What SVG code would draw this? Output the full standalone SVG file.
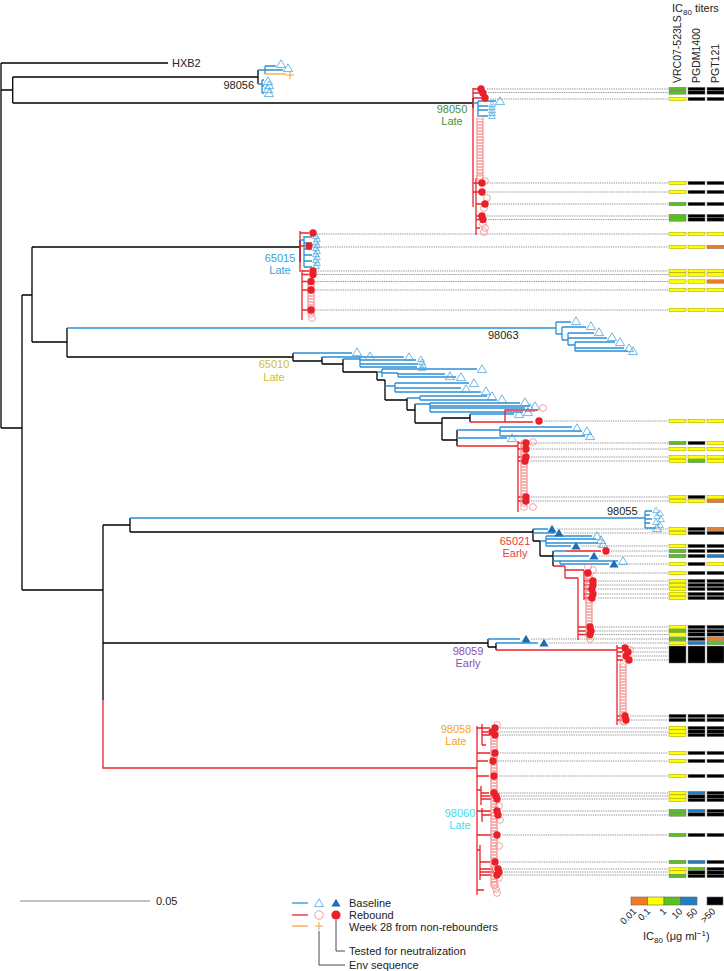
<svg xmlns="http://www.w3.org/2000/svg" width="724" height="971" viewBox="0 0 724 971">
<style>
text{font-family:"Liberation Sans",Arial,sans-serif;font-size:11px;fill:#222}
.hd{font-size:10.5px}
.k{fill:none;stroke:#000;stroke-width:1.3}
.b{fill:none;stroke:#2b8fd5;stroke-width:1.3}
.r{fill:none;stroke:#ea2229;stroke-width:1.3}
.or{fill:none;stroke:#f5a23c;stroke-width:1.3}
.dt{fill:none;stroke:#555;stroke-width:0.6;stroke-dasharray:1.4 0.9}
.Y{fill:#ffff00;stroke:#a39e00;stroke-width:.5}
.G{fill:#58c21c;stroke:#777;stroke-width:.5}
.K{fill:#000;stroke:#777;stroke-width:.5}
.O{fill:#f47a20;stroke:#777;stroke-width:.5}
.B{fill:#1f7dc3;stroke:#777;stroke-width:.5}
.lg{fill:none;stroke:#333;stroke-width:.9}
</style>
<defs>
<polygon id="ta" points="0,-4.2 4.6,3.6 -4.6,3.6" fill="none" stroke="#45a6df" stroke-width="0.8"/>
<polygon id="ts" points="0,-3 3.4,2.6 -3.4,2.6" fill="none" stroke="#45a6df" stroke-width="0.7"/>
<polygon id="tf" points="0,-4.2 4.6,3.6 -4.6,3.6" fill="#1b6fb6"/>
<circle id="co" r="3.4" fill="none" stroke="#f28b8b" stroke-width="0.8"/>
<circle id="cf" r="3.7" fill="#e8202a"/>
<path id="pl" d="M-4,0H4M0,-4V4" stroke="#f5a23c" stroke-width="1" fill="none"/>
<g id="cs"><use href="#co"/><use href="#co" y="3"/><use href="#co" y="6"/><use href="#co" y="9"/><use href="#co" y="12"/><use href="#co" y="15"/><use href="#co" y="18"/><use href="#co" y="21"/><use href="#co" y="24"/><use href="#co" y="27"/></g>
<g id="gkk"><rect class="G" x="669" y="-1.7" width="17" height="3.4"/><rect class="K" x="688" y="-1.7" width="17" height="3.4"/><rect class="K" x="707" y="-1.7" width="17" height="3.4"/></g>
<g id="ykk"><rect class="Y" x="669" y="-1.7" width="17" height="3.4"/><rect class="K" x="688" y="-1.7" width="17" height="3.4"/><rect class="K" x="707" y="-1.7" width="17" height="3.4"/></g>
<g id="yyy"><rect class="Y" x="669" y="-1.7" width="17" height="3.4"/><rect class="Y" x="688" y="-1.7" width="17" height="3.4"/><rect class="Y" x="707" y="-1.7" width="17" height="3.4"/></g>
<g id="yyo"><rect class="Y" x="669" y="-1.7" width="17" height="3.4"/><rect class="Y" x="688" y="-1.7" width="17" height="3.4"/><rect class="O" x="707" y="-1.7" width="17" height="3.4"/></g>
<g id="gky"><rect class="G" x="669" y="-1.7" width="17" height="3.4"/><rect class="K" x="688" y="-1.7" width="17" height="3.4"/><rect class="Y" x="707" y="-1.7" width="17" height="3.4"/></g>
<g id="ygy"><rect class="Y" x="669" y="-1.7" width="17" height="3.4"/><rect class="G" x="688" y="-1.7" width="17" height="3.4"/><rect class="Y" x="707" y="-1.7" width="17" height="3.4"/></g>
<g id="yky"><rect class="Y" x="669" y="-1.7" width="17" height="3.4"/><rect class="K" x="688" y="-1.7" width="17" height="3.4"/><rect class="Y" x="707" y="-1.7" width="17" height="3.4"/></g>
<g id="yko"><rect class="Y" x="669" y="-1.7" width="17" height="3.4"/><rect class="K" x="688" y="-1.7" width="17" height="3.4"/><rect class="O" x="707" y="-1.7" width="17" height="3.4"/></g>
<g id="gkb"><rect class="G" x="669" y="-1.7" width="17" height="3.4"/><rect class="K" x="688" y="-1.7" width="17" height="3.4"/><rect class="B" x="707" y="-1.7" width="17" height="3.4"/></g>
<g id="kkk"><rect class="K" x="669" y="-1.7" width="17" height="3.4"/><rect class="K" x="688" y="-1.7" width="17" height="3.4"/><rect class="K" x="707" y="-1.7" width="17" height="3.4"/></g>
<g id="gko"><rect class="G" x="669" y="-1.7" width="17" height="3.4"/><rect class="K" x="688" y="-1.7" width="17" height="3.4"/><rect class="O" x="707" y="-1.7" width="17" height="3.4"/></g>
<g id="ybg"><rect class="Y" x="669" y="-1.7" width="17" height="3.4"/><rect class="B" x="688" y="-1.7" width="17" height="3.4"/><rect class="G" x="707" y="-1.7" width="17" height="3.4"/></g>
<g id="ybk"><rect class="Y" x="669" y="-1.7" width="17" height="3.4"/><rect class="B" x="688" y="-1.7" width="17" height="3.4"/><rect class="K" x="707" y="-1.7" width="17" height="3.4"/></g>
<g id="gbk"><rect class="G" x="669" y="-1.7" width="17" height="3.4"/><rect class="B" x="688" y="-1.7" width="17" height="3.4"/><rect class="K" x="707" y="-1.7" width="17" height="3.4"/></g>
<g id="ygk"><rect class="Y" x="669" y="-1.7" width="17" height="3.4"/><rect class="G" x="688" y="-1.7" width="17" height="3.4"/><rect class="K" x="707" y="-1.7" width="17" height="3.4"/></g>
</defs>
<rect width="724" height="971" fill="#fff"/>

<g id="header">
<text x="672" y="12">IC<tspan font-size="8" dy="3">80</tspan><tspan dy="-3"> titers</tspan></text>
<text class="hd" transform="translate(681,83) rotate(-90)">VRC07-523LS</text>
<text class="hd" transform="translate(700,83) rotate(-90)">PGDM1400</text>
<text class="hd" transform="translate(719,83) rotate(-90)">PGT121</text>
</g>

<g id="connectors">
<path class="k" d="M1,63V428M1,63H168M1,90H12.7M12.7,77V103M12.7,77H258M12.7,103H473M1,428H22M22,295V590M22,295H32M32,247V342M32,247H300M32,342H67M67,328V357M67,357H293M22,590H103M103,525V700M103,525H130M130,518V532M130,532H533M103,643H488"/>
<path class="r" d="M103,700V768H477"/>
<path class="b" d="M67,328H556M130,518H645"/>
<g id="dotted" class="dt">
<path d="M487,89H668M488,92.5H668M490,99H668M487,183H668M487,192H668M490,204H668M487,216H668M488,219.5H668"/>
<path d="M317,234H668M314,247H668M318,271H668M317,274.5H668M315,281.5H668M315,290H668M315,310H668"/>
<path d="M544,421H668M531,443H668M531,449H668M531,457H668M531,461H668M531,497H668M531,501H668"/>
<path d="M557,529H668M564,533H668M581,546H668M611,551H668M599,556H668M619,564H668M593,573H668M598,581H668M598,585H668M598,589H668M598,594H668M598,598H668M595,627H668M595,631H668M595,634.5H668"/>
<path d="M531,639H668M549,643H668M630,648H668M633,652H668M631,656H668M634,660H668M630,716H668M631,720H668"/>
<path d="M500,728H668M497,732H668M500,735H668M500,753H668M498,761H668M499,776H668M499,793H668M501,796H668M502,799H668M502,811H668M503,815H668M502,835H668M500,862H668M503,869H668M504,872H668M502,875H668"/>
</g>
</g>

<g id="HXB2"><text x="172" y="67">HXB2</text></g>

<g id="clade-98056">
<path class="k" d="M258,70V84"/>
<path class="b" d="M258,70H265M265,66V74M265,66H276M265,70H283M258,84H262M262,80V93M262,80H264M262,86H264M262,93H264"/>
<path class="or" d="M265,74H286"/>
<use href="#ta" x="281" y="64"/><use href="#ta" x="288" y="68"/><use href="#ta" x="268" y="81"/><use href="#ta" x="269" y="85"/><use href="#ta" x="268" y="89"/><use href="#ta" x="269" y="93"/>
<use href="#pl" x="290" y="75"/>
<text x="254" y="89" text-anchor="end">98056</text>
</g>

<g id="clade-98050">
<path class="k" d="M473,98V108" stroke-width="2"/>
<path class="r" d="M473,88V207M473,89H479M473,93H480M473,98H482M476,178V235M473,183H479M473,192H479M476,204H482M476,216H479M476,219.5H480M476,228H480"/>
<path class="b" d="M473,103H478M478,101V116M478,101H496M478,106H488M478,110H488M478,116H488"/>
<use href="#ta" x="500" y="101"/><use href="#ts" x="492" y="104"/><use href="#ts" x="492" y="107"/><use href="#ts" x="492" y="110"/><use href="#ts" x="492" y="113"/><use href="#ts" x="492" y="116"/>
<use href="#cs" x="480" y="119"/><use href="#cs" x="480" y="149"/><use href="#co" x="480" y="178"/><use href="#co" x="485" y="181"/><use href="#co" x="487" y="198"/><use href="#co" x="484" y="208"/><use href="#co" x="483" y="224"/><use href="#co" x="485" y="228"/><use href="#co" x="484" y="232"/>
<use href="#cf" x="481" y="89"/><use href="#cf" x="483" y="93"/><use href="#cf" x="485" y="98"/><use href="#cf" x="482" y="183"/><use href="#cf" x="482" y="192"/><use href="#cf" x="485" y="204"/><use href="#cf" x="482" y="216"/><use href="#cf" x="483" y="219.5"/>
<text x="452" y="113" text-anchor="middle" style="fill:#4a8f3a">98050</text>
<text x="452" y="125" text-anchor="middle" style="fill:#4a8f3a">Late</text>
</g>

<g id="clade-65015">
<path class="k" d="M300,240V262" stroke-width="1.6"/>
<path class="r" d="M300,231V272M302,270V320M300,233H309M300,246H305M302,271H309M302,274.5H309M302,281.5H307M302,290H307M302,310H307"/>
<path class="b" d="M300,240H304M304,236V267M304,237H312M304,243H312M304,249H312M304,255H312M304,261H312M304,267H312"/>
<use href="#ts" x="316" y="236"/><use href="#ts" x="317" y="239"/><use href="#ts" x="316" y="242"/><use href="#ts" x="317" y="245"/><use href="#ts" x="316" y="248"/><use href="#ts" x="317" y="251"/><use href="#ts" x="316" y="254"/><use href="#ts" x="317" y="257"/><use href="#ts" x="316" y="260"/><use href="#ts" x="317" y="263"/><use href="#ts" x="316" y="266"/>
<use href="#cs" x="311" y="284"/><use href="#co" x="311" y="314"/><use href="#co" x="312" y="318"/>
<use href="#cf" x="313" y="233"/><use href="#cf" x="309" y="246"/><use href="#cf" x="313" y="271"/><use href="#cf" x="313" y="274.5"/><use href="#cf" x="311" y="281.5"/><use href="#cf" x="311" y="290"/><use href="#cf" x="311" y="310"/>
<text x="280" y="262" text-anchor="middle" style="fill:#3a9fda">65015</text>
<text x="280" y="274" text-anchor="middle" style="fill:#3a9fda">Late</text>
</g>

<g id="clade-98063">
<path class="b" d="M556,322V334M556,322H571M556,334H562M562,327V340M562,327H586M562,340H568M568,333V345M568,333H594M568,338H607M568,345H575M575,342V351M575,342H615M575,348H624M575,351H628"/>
<use href="#ta" x="576" y="321"/><use href="#ta" x="591" y="326"/><use href="#ta" x="599" y="332"/><use href="#ta" x="612" y="337"/><use href="#ta" x="620" y="342"/><use href="#ta" x="629" y="348"/><use href="#ta" x="633" y="351"/>
<text x="488" y="339">98063</text>
</g>

<g id="clade-65010">
<path class="k" d="M293,353V361M293,361H322M322,357V364M322,364H343M343,359V372M343,372H377M377,372V380M377,380H385M385,380V400M385,400H407M407,398V410M407,410H415M415,404V423M415,423H442M442,418V440M442,418H470M470,414V422M442,440H457M457,430V446"/>
<path class="b" d="M293,353H352M322,357H365M343,359H360M360,357V367M360,357H404M360,360H416M360,364H418M360,367H417M377,372H382M382,369V377M382,369H477M382,373H398M398,373V377M398,374H445M398,377H456M385,386H395M395,383V392M395,383H469M395,388H461M395,392H481M407,398H420M420,396V400M420,396H487M420,400H497M415,404H430M430,403V412M430,403H520M430,406H530M430,408H525M430,412H523M470,414H514M457,430H500M500,427V436M500,427H572M500,431H582M500,436H585M457,438H507"/>
<path class="r" d="M470,422H533M505,422V410H538M457,446H518M518,441V512M518,443H523M518,449H523M518,457H523M518,461H523M518,497H523M518,501H523"/>
<use href="#ta" x="357" y="352"/><use href="#ta" x="370" y="356"/><use href="#ta" x="409" y="357"/><use href="#ts" x="421" y="359"/><use href="#ts" x="422" y="362"/><use href="#ts" x="423" y="365"/><use href="#ts" x="422" y="368"/>
<use href="#ta" x="482" y="369"/><use href="#ta" x="450" y="376"/><use href="#ta" x="461" y="377"/><use href="#ta" x="474" y="383"/><use href="#ta" x="466" y="389"/><use href="#ta" x="486" y="391"/><use href="#ta" x="492" y="396"/><use href="#ta" x="502" y="399"/>
<use href="#ta" x="525" y="402"/><use href="#ta" x="535" y="406"/><use href="#ta" x="530" y="408"/><use href="#ta" x="528" y="412"/><use href="#ta" x="519" y="414"/><use href="#ta" x="577" y="428"/><use href="#ta" x="587" y="431"/><use href="#ta" x="590" y="436"/><use href="#ta" x="512" y="438"/>
<use href="#co" x="543" y="408"/><use href="#co" x="533" y="442"/><use href="#cs" x="524" y="443"/><use href="#cs" x="524" y="473"/><use href="#co" x="524" y="503"/><use href="#co" x="524" y="507"/><use href="#co" x="533" y="507"/>
<use href="#cf" x="539" y="421"/><use href="#cf" x="526" y="443"/><use href="#cf" x="526" y="449"/><use href="#cf" x="526" y="457"/><use href="#cf" x="525" y="461"/><use href="#cf" x="526" y="497"/><use href="#cf" x="526" y="501"/>
<text x="274" y="368" text-anchor="middle" style="fill:#d2c029">65010</text>
<text x="274" y="381" text-anchor="middle" style="fill:#d2c029">Late</text>
</g>

<g id="clade-98055">
<path class="b" d="M645,511V528M645,511H652M645,515H650M645,519H652M645,523H650M645,528H656"/>
<use href="#ts" x="656" y="510"/><use href="#ts" x="660" y="513"/><use href="#ts" x="657" y="516"/><use href="#ts" x="661" y="519"/><use href="#ts" x="656" y="522"/><use href="#ts" x="660" y="525"/><use href="#ta" x="657" y="528"/>
<text x="607" y="515">98055</text>
</g>

<g id="clade-65021">
<path class="k" d="M533,529V541M533,541H540M540,541V556M540,556H553M553,551V566"/>
<path class="b" d="M533,529H548M533,533H555M540,541H546M546,536V546M546,536H592M546,539H596M546,543H598M546,546H571M553,551H566M553,556H589M553,561H560M560,561V564M560,561H618M560,564H609"/>
<path class="r" d="M566,551H601M553,566H565M565,566V578M565,570H584M565,578H578M578,578V640M584,570V600M584,573H588M584,581H590M584,585H590M584,589H590M584,594H590M584,598H590M578,627H586M578,631H586M578,634.5H586"/>
<use href="#tf" x="552" y="529"/><use href="#tf" x="559" y="533"/><use href="#ta" x="597" y="536"/><use href="#ta" x="601" y="540"/><use href="#ta" x="603" y="544"/><use href="#tf" x="576" y="546"/><use href="#tf" x="594" y="556"/><use href="#tf" x="614" y="564"/><use href="#ta" x="623" y="561"/>
<use href="#co" x="588" y="567"/><use href="#co" x="593" y="570"/><use href="#cs" x="589" y="576"/><use href="#cs" x="589" y="606"/><use href="#co" x="589" y="636"/><use href="#co" x="590" y="639"/>
<use href="#cf" x="606" y="551"/><use href="#cf" x="588" y="573"/><use href="#cf" x="593" y="581"/><use href="#cf" x="593" y="585"/><use href="#cf" x="592" y="589"/><use href="#cf" x="593" y="594"/><use href="#cf" x="592" y="598"/><use href="#cf" x="590" y="627"/><use href="#cf" x="591" y="631"/><use href="#cf" x="590" y="634.5"/>
<text x="515" y="545" text-anchor="middle" style="fill:#e8403a">65021</text>
<text x="515" y="557" text-anchor="middle" style="fill:#e8403a">Early</text>
</g>

<g id="clade-98059">
<path class="k" d="M488,639V647M488,647H496M496,643V650"/>
<path class="b" d="M488,639H520M496,643H538"/>
<path class="r" d="M496,650H617M617,645V725M617,648H621M617,652H623M617,656H621M617,660H623M617,716H621M617,720H622"/>
<use href="#tf" x="526" y="639"/><use href="#tf" x="544" y="643"/>
<use href="#co" x="630" y="650"/><use href="#cs" x="623" y="664"/><use href="#cs" x="623" y="694"/><use href="#co" x="624" y="722"/>
<use href="#cf" x="625" y="648"/><use href="#cf" x="628" y="652"/><use href="#cf" x="626" y="656"/><use href="#cf" x="629" y="660"/><use href="#cf" x="625" y="716"/><use href="#cf" x="626" y="720"/>
<text x="468" y="655" text-anchor="middle" style="fill:#8b50b0">98059</text>
<text x="468" y="667" text-anchor="middle" style="fill:#8b50b0">Early</text>
</g>

<g id="clade-98058-98060">
<path class="r" d="M477,726V895M477,728H482M482,724V745M482,728H490M482,732H488M482,735H490M482,745H486M477,753H490M477,761H488M477,776H489M477,790H481M481,786V805M481,793H489M481,796H490M481,799H492M477,811H482M482,808V822M482,811H491M482,815H492M477,835H492M477,850H480M480,845V880M480,862H490M480,869H493M480,872H494M480,875H492M477,890H484"/>
<use href="#co" x="497" y="725"/><use href="#cs" x="494" y="738"/><use href="#cs" x="494" y="768"/><use href="#cs" x="494" y="798"/><use href="#cs" x="494" y="828"/><use href="#cs" x="494" y="858"/><use href="#co" x="495" y="885"/><use href="#co" x="496" y="889"/><use href="#co" x="497" y="893"/><use href="#co" x="499" y="806"/><use href="#co" x="500" y="820"/><use href="#co" x="499" y="846"/><use href="#co" x="499" y="878"/>
<use href="#cf" x="495" y="728"/><use href="#cf" x="492" y="732"/><use href="#cf" x="495" y="735"/><use href="#cf" x="495" y="753"/><use href="#cf" x="493" y="761"/><use href="#cf" x="494" y="776"/><use href="#cf" x="494" y="793"/><use href="#cf" x="496" y="796"/><use href="#cf" x="497" y="799"/><use href="#cf" x="497" y="811"/><use href="#cf" x="498" y="815"/><use href="#cf" x="497" y="835"/><use href="#cf" x="495" y="862"/><use href="#cf" x="498" y="869"/><use href="#cf" x="499" y="872"/><use href="#cf" x="497" y="875"/>
<text x="456" y="733" text-anchor="middle" style="fill:#f5a623">98058</text>
<text x="456" y="745" text-anchor="middle" style="fill:#f5a623">Late</text>
<text x="460" y="817" text-anchor="middle" style="fill:#3fe0f0">98060</text>
<text x="460" y="829" text-anchor="middle" style="fill:#3fe0f0">Late</text>
</g>

<g id="heatmap">
<use href="#gkk" y="89"/><use href="#gkk" y="92.5"/><use href="#ykk" y="99"/><use href="#ykk" y="183"/><use href="#ykk" y="192"/><use href="#gkk" y="204"/><use href="#gkk" y="216"/><use href="#gkk" y="219.5"/>
<use href="#yyy" y="234"/><use href="#yyo" y="247"/><use href="#yyy" y="271"/><use href="#yyy" y="274.5"/><use href="#yyo" y="281.5"/><use href="#yyy" y="290"/><use href="#yyy" y="310"/>
<use href="#yyy" y="421"/><use href="#gky" y="443"/><use href="#yyy" y="449"/><use href="#yyy" y="457"/><use href="#ygy" y="461"/><use href="#yky" y="497"/><use href="#yyo" y="501"/>
<use href="#yko" y="529"/><use href="#ykk" y="533"/><use href="#ykk" y="546"/><use href="#gkk" y="551"/><use href="#gkb" y="556"/><use href="#yky" y="564"/><use href="#ykk" y="573"/><use href="#ykk" y="581"/><use href="#ykk" y="585"/><use href="#ykk" y="589"/><use href="#ykk" y="594"/><use href="#ykk" y="598"/><use href="#ykk" y="627"/><use href="#gkk" y="631"/><use href="#ykk" y="634.5"/>
<use href="#gko" y="639"/><use href="#ybg" y="643"/>
<rect class="K" x="669" y="646" width="17" height="17"/><rect class="K" x="688" y="646" width="17" height="17"/><rect class="K" x="707" y="646" width="17" height="17"/>
<use href="#kkk" y="716"/><use href="#kkk" y="720"/>
<use href="#ykk" y="728"/><use href="#ykk" y="731.5"/><use href="#ykk" y="735"/><use href="#ykk" y="753"/><use href="#ykk" y="761"/><use href="#ykk" y="776"/><use href="#ybk" y="793"/><use href="#ykk" y="796.5"/><use href="#ykk" y="800"/><use href="#gbk" y="811"/><use href="#gkk" y="814.5"/><use href="#gkk" y="835"/><use href="#gbk" y="862"/><use href="#ygk" y="869"/><use href="#ykk" y="872.5"/><use href="#gkk" y="876"/>
</g>

<g id="scale-bar">
<path d="M20,901H150" stroke="#777" stroke-width="0.9" fill="none"/>
<text x="156" y="905">0.05</text>
</g>

<g id="legend">
<path class="b" d="M292,903H308"/><path class="r" d="M292,915H308"/><path class="or" d="M292,926H308"/>
<use href="#ta" x="319" y="903"/><use href="#tf" x="336" y="903"/>
<circle cx="319" cy="915" r="4.2" fill="none" stroke="#f28b8b" stroke-width="0.9"/><circle cx="336" cy="915" r="4.6" fill="#e8202a"/>
<use href="#pl" x="319" y="926"/>
<path class="lg" d="M336,920V951H345M319,931V965H345"/>
<text x="349" y="907">Baseline</text>
<text x="349" y="919">Rebound</text>
<text x="349" y="931">Week 28 from non-rebounders</text>
<text x="349" y="955">Tested for neutralization</text>
<text x="349" y="969">Env sequence</text>
</g>

<g id="color-key">
<rect x="631" y="897" width="16.5" height="8" fill="#f47a20" stroke="#666" stroke-width=".6"/>
<rect x="647.5" y="897" width="16.5" height="8" fill="#ffff00" stroke="#666" stroke-width=".6"/>
<rect x="664" y="897" width="16.5" height="8" fill="#58c21c" stroke="#666" stroke-width=".6"/>
<rect x="680.5" y="897" width="16.5" height="8" fill="#1f7dc3" stroke="#666" stroke-width=".6"/>
<rect x="707" y="897" width="16" height="8" fill="#000" stroke="#666" stroke-width=".6"/>
<text transform="translate(637,912) rotate(-45)" text-anchor="end" style="font-size:9.5px">0.01</text>
<text transform="translate(651,912) rotate(-45)" text-anchor="end" style="font-size:9.5px">0.1</text>
<text transform="translate(667,912) rotate(-45)" text-anchor="end" style="font-size:9.5px">1</text>
<text transform="translate(683,912) rotate(-45)" text-anchor="end" style="font-size:9.5px">10</text>
<text transform="translate(698,912) rotate(-45)" text-anchor="end" style="font-size:9.5px">50</text>
<text transform="translate(716,912) rotate(-45)" text-anchor="end" style="font-size:9.5px">&gt;50</text>
<text x="643" y="940">IC<tspan font-size="8" dy="3">80</tspan><tspan dy="-3"> (μg ml</tspan><tspan font-size="8" dy="-4">−1</tspan><tspan dy="4">)</tspan></text>
</g>
</svg>
